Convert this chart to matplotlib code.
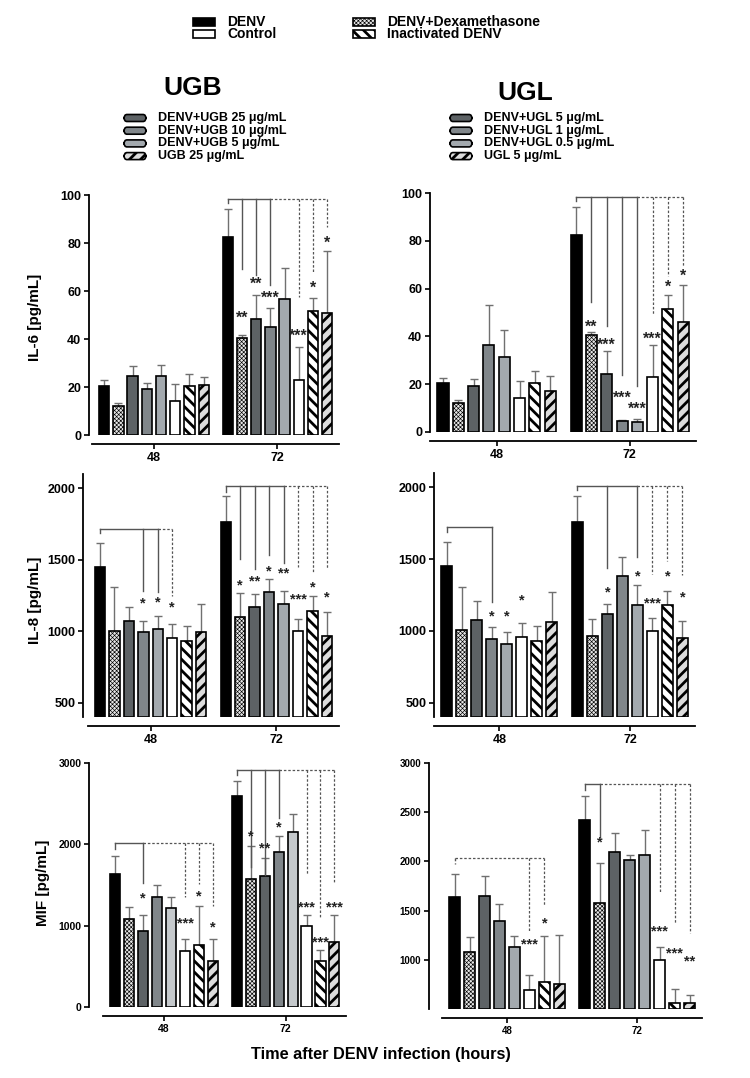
import matplotlib
matplotlib.use('Agg')
import matplotlib.pyplot as plt
from matplotlib.patches import Rectangle, FancyBboxPatch

plt.rcParams['font.family'] = ['Liberation Sans', 'DejaVu Sans']

W, H = 750, 1078

times = ['48', '72']
top_legend = ['DENV', 'Control', 'DENV+Dexamethasone', 'Inactivated DENV']
ugb_legend = ['DENV+UGB 25 μg/mL', 'DENV+UGB 10 μg/mL', 'DENV+UGB 5 μg/mL', 'UGB 25 μg/mL']
ugl_legend = ['DENV+UGL 5 μg/mL', 'DENV+UGL 1 μg/mL', 'DENV+UGL 0.5 μg/mL', 'UGL 5 μg/mL']

# bar order in each time group:
# DENV, DENV+Dex, DENV+drug high, mid, low, Control, Inactivated DENV, drug alone

# IL-6, UGB
il6_ugb_48 = [20.4, 12.1, 24.6, 19.3, 24.6, 14.2, 20.6, 20.8]
il6_ugb_48_sd = [2.5, 1.4, 4.1, 2.4, 4.6, 7.2, 4.7, 3.5]
il6_ugb_72 = [82.6, 40.5, 48.4, 45.0, 56.8, 23.0, 51.6, 50.7]
il6_ugb_72_sd = [11.4, 1.2, 10.1, 8.0, 12.8, 13.5, 5.6, 25.8]
il6_ugb_48_stars = ['', '', '', '', '', '', '', '']
il6_ugb_72_stars = ['', '**', '**', '***', '', '***', '*', '*']
il6_ugb_72_star_y = [0, 48.6, 62.8, 57, 0, 41, 61, 80]

# IL-6, UGL
il6_ugl_48 = [20.3, 12.2, 19.4, 36.2, 31.2, 14.4, 20.6, 17.3]
il6_ugl_48_sd = [2.5, 1.3, 2.8, 16.8, 11.6, 7.0, 4.8, 6.1]
il6_ugl_72 = [82.5, 40.5, 24.2, 4.5, 4.3, 23.0, 51.6, 46.0]
il6_ugl_72_sd = [11.5, 1.2, 9.8, 0.5, 1.3, 13.5, 5.6, 15.5]
il6_ugl_48_stars = ['', '', '', '', '', '', '', '']
il6_ugl_72_stars = ['', '**', '***', '***', '***', '***', '*', '*']
il6_ugl_72_star_y = [0, 44, 36.4, 14.3, 9.6, 39, 60.5, 65]

# IL-8, UGB
il8_ugb_48 = [1450, 1003, 1070, 992, 1013, 955, 929, 992]
il8_ugb_48_sd = [167, 304, 98, 81, 95, 97, 109, 197]
il8_ugb_72 = [1764, 1101, 1170, 1274, 1193, 1003, 1142, 968]
il8_ugb_72_sd = [178, 169, 88, 91, 88, 86, 105, 170]
il8_ugb_48_stars = ['', '', '', '*', '*', '*', '', '']
il8_ugb_48_star_y = [0, 0, 0, 1191, 1200, 1165, 0, 0]
il8_ugb_72_stars = ['', '*', '**', '*', '**', '***', '*', '*']
il8_ugb_72_star_y = [0, 1323, 1346, 1420, 1404, 1219, 1305, 1237]

# IL-8, UGL
il8_ugl_48 = [1449, 1005, 1074, 940, 912, 958, 928, 1060]
il8_ugl_48_sd = [169, 300, 134, 90, 81, 95, 107, 208]
il8_ugl_72 = [1762, 965, 1118, 1380, 1178, 1002, 1180, 947]
il8_ugl_72_sd = [180, 116, 67, 134, 141, 86, 98, 120]
il8_ugl_48_stars = ['', '', '', '*', '*', '*', '', '']
il8_ugl_48_star_y = [0, 0, 0, 1097, 1097, 1213, 0, 0]
il8_ugl_72_stars = ['', '', '*', '', '*', '***', '*', '*']
il8_ugl_72_star_y = [0, 0, 1271, 0, 1382, 1194, 1382, 1231]

# MIF, UGB
mif_ugb_48 = [1639, 1078, 930, 1356, 1217, 684, 766, 561]
mif_ugb_48_sd = [222, 151, 205, 144, 139, 156, 472, 271]
mif_ugb_72 = [2590, 1578, 1615, 1910, 2156, 996, 561, 795]
mif_ugb_72_sd = [188, 397, 217, 192, 221, 131, 144, 340]
mif_ugb_48_stars = ['', '', '*', '', '', '***', '*', '*']
mif_ugb_48_star_y = [0, 0, 1340, 0, 0, 1025, 1360, 975]
mif_ugb_72_stars = ['', '*', '**', '*', '', '***', '***', '***']
mif_ugb_72_star_y = [0, 2098, 1946, 2213, 0, 1229, 799, 1229]

# MIF, UGL
mif_ugl_48 = [1642, 1078, 1652, 1392, 1128, 689, 770, 757]
mif_ugl_48_sd = [226, 153, 196, 176, 115, 159, 467, 497]
mif_ugl_72 = [2419, 1581, 2098, 2014, 2068, 993, 561, 558]
mif_ugl_72_sd = [243, 406, 186, 54, 256, 136, 145, 81]
mif_ugl_48_stars = ['', '', '', '', '', '***', '*', '']
mif_ugl_48_star_y = [0, 0, 0, 0, 0, 1152, 1365, 0]
mif_ugl_72_stars = ['', '*', '', '', '', '***', '***', '**']
mif_ugl_72_star_y = [0, 2189, 0, 0, 0, 1284, 1068, 983]

# comparison brackets: (group, level, end of DENV tick, [(bar, end, solid)])
il6_ugb_brackets = [(1, 98.2, 96.5, [(1, 69, True), (2, 66.7, True), (3, 62.5, True),
                                     (5, 57.6, False), (6, 68, False), (7, 86.8, False)])]
il6_ugl_brackets = [(1, 98.2, 96.5, [(1, 54.5, True), (2, 44.3, True), (3, 23.8, True), (4, 19.2, True),
                                     (5, 49.4, False), (6, 65.3, False), (7, 69.2, False)])]
il8_ugb_brackets = [(0, 1713, 1685, [(3, 1281, True), (4, 1277, True), (5, 1247, False)]),
                    (1, 2012, 1975, [(1, 1502, True), (2, 1432, True), (3, 1536, True), (4, 1478, True),
                                     (5, 1450, False), (6, 1416, False), (7, 1432, False)])]
il8_ugl_brackets = [(0, 1722, 1692, [(3, 1201, True)]),
                    (1, 2007, 1981, [(2, 1437, True), (4, 1514, True),
                                     (5, 1393, False), (6, 1486, False), (7, 1387, False)])]
mif_ugb_brackets = [(0, 2016, 1946, [(2, 1524, True), (5, 1352, False), (6, 1516, False), (7, 1238, False)]),
                    (1, 2918, 2848, [(1, 1721, True), (2, 1619, True), (3, 2328, True),
                                     (5, 1639, False), (6, 1106, False), (7, 1537, False)])]
mif_ugl_brackets = [(0, 2030, 1973, [(5, 1297, False), (6, 1547, False)]),
                    (1, 2784, 2723, [(1, 2250, True), (5, 1693, False), (6, 1365, False), (7, 1270, False)])]

GROUP_GAP = 8.7
BAR_W = 0.72
LINE_GRAY = '#555555'
DEX_STYLE = ('#e6e6e6', 'xxxxxxxx', 0.45)


def fx(px):
    return px / W


def fy(py):
    return 1 - py / H


def bar_style(i, low_color):
    # (facecolor, hatch, hatch linewidth)
    styles = [('black', None, 0),
              DEX_STYLE,
              ('#5d6265', None, 0),
              ('#80868a', None, 0),
              (low_color, None, 0),
              ('white', None, 0),
              ('white', '\\\\\\', 2.0),
              ('#dcdcdc', '///', 2.0)]
    return styles[i]


def styled_patch(p, hatch, hlw):
    if hatch:
        p.set_hatch(hatch)
        if hasattr(p, 'set_hatch_linewidth'):
            p.set_hatch_linewidth(hlw)


def draw_panel(cfg):
    left, right, top, bottom = cfg['rect']
    ax = plt.gcf().add_axes([fx(left), fy(bottom), (right - left) / W, (bottom - top) / H])
    y0, y1 = cfg['ylim']
    ax.set_xlim(cfg['xleft'], 16.6)
    ax.set_ylim(y0, y1)

    groups = [(0, cfg['m48'], cfg['sd48'], cfg['st48'], cfg['sy48']),
              (GROUP_GAP, cfg['m72'], cfg['sd72'], cfg['st72'], cfg['sy72'])]
    for off, means, sds, stars, star_y in groups:
        xs = [off + i for i in range(8)]
        for i, (x, m) in enumerate(zip(xs, means)):
            face, hatch, hlw = bar_style(i, cfg['low'])
            bars = ax.bar(x, m - y0, bottom=y0, width=BAR_W, color=face,
                          edgecolor='black', linewidth=1.2, zorder=3)
            styled_patch(bars[0], hatch, hlw)
        ax.errorbar(xs, means, yerr=[[0] * 8, sds], fmt='none', ecolor='#707070',
                    elinewidth=1.0, capsize=2.6, capthick=1.0, zorder=2)
        for x, s, sy in zip(xs, stars, star_y):
            if s:
                ax.text(x, sy, s, ha='center', va='center', fontsize=cfg['star_fs'],
                        fontweight='bold', color='#222222', zorder=5)

    for grp, level, tick_end, targets in cfg['brackets']:
        off = GROUP_GAP * grp
        x0 = off
        solid_x = [off + t[0] for t in targets if t[2]]
        last_x = off + targets[-1][0]
        has_solid = len(solid_x) > 0
        ax.plot([x0, x0], [level, tick_end], color=LINE_GRAY, lw=1.0,
                ls='-' if has_solid else (0, (2, 1.5)), zorder=4)
        if has_solid:
            ax.plot([x0, max(solid_x)], [level, level], color=LINE_GRAY, lw=1.0, zorder=4)
            dash_start = max(solid_x)
        else:
            dash_start = x0
        if last_x > dash_start:
            ax.plot([dash_start, last_x], [level, level], color=LINE_GRAY, lw=0.9,
                    ls=(0, (2, 1.5)), zorder=4)
        for idx, end, solid in targets:
            ax.plot([off + idx, off + idx], [level, end], color=LINE_GRAY,
                    lw=1.0 if solid else 0.9, ls='-' if solid else (0, (2, 1.5)), zorder=4)

    for side in ['top', 'right']:
        ax.spines[side].set_visible(False)
    ax.spines['left'].set_linewidth(1.3)
    ax.spines['bottom'].set_linewidth(1.3)
    ax.spines['bottom'].set_position(('outward', 6.5))
    ax.spines['bottom'].set_bounds(-0.85, 16.55)
    ax.set_xticks([3.5, GROUP_GAP + 3.5])
    ax.set_xticklabels(times)
    ax.set_yticks(cfg['yticks'])
    ax.tick_params(axis='both', width=1.2, length=3.5, labelsize=cfg['tick_fs'], pad=2)
    for lab in ax.get_xticklabels() + ax.get_yticklabels():
        lab.set_fontweight('bold')
    ax.set_facecolor('none')
    return ax


fig = plt.figure(figsize=(7.5, 10.78), dpi=100)

panels = [
    dict(rect=(89, 340, 195, 435), xleft=-1.07, ylim=(0, 100), yticks=[0, 20, 40, 60, 80, 100],
         m48=il6_ugb_48, sd48=il6_ugb_48_sd, m72=il6_ugb_72, sd72=il6_ugb_72_sd,
         st48=il6_ugb_48_stars, sy48=[0] * 8, st72=il6_ugb_72_stars, sy72=il6_ugb_72_star_y,
         brackets=il6_ugb_brackets, low='#a3a9ae', star_fs=11.5, tick_fs=9),
    dict(rect=(430, 697, 193, 432), xleft=-0.85, ylim=(0, 100), yticks=[0, 20, 40, 60, 80, 100],
         m48=il6_ugl_48, sd48=il6_ugl_48_sd, m72=il6_ugl_72, sd72=il6_ugl_72_sd,
         st48=il6_ugl_48_stars, sy48=[0] * 8, st72=il6_ugl_72_stars, sy72=il6_ugl_72_star_y,
         brackets=il6_ugl_brackets, low='#a3a9ae', star_fs=11.5, tick_fs=9),
    dict(rect=(83, 340, 473.7, 717.3), xleft=-1.17, ylim=(400, 2100), yticks=[500, 1000, 1500, 2000],
         m48=il8_ugb_48, sd48=il8_ugb_48_sd, m72=il8_ugb_72, sd72=il8_ugb_72_sd,
         st48=il8_ugb_48_stars, sy48=il8_ugb_48_star_y, st72=il8_ugb_72_stars, sy72=il8_ugb_72_star_y,
         brackets=il8_ugb_brackets, low='#a3a9ae', star_fs=10.5, tick_fs=9),
    dict(rect=(434, 696, 473, 717), xleft=-0.85, ylim=(400, 2100), yticks=[500, 1000, 1500, 2000],
         m48=il8_ugl_48, sd48=il8_ugl_48_sd, m72=il8_ugl_72, sd72=il8_ugl_72_sd,
         st48=il8_ugl_48_stars, sy48=il8_ugl_48_star_y, st72=il8_ugl_72_stars, sy72=il8_ugl_72_star_y,
         brackets=il8_ugl_brackets, low='#a3a9ae', star_fs=10.5, tick_fs=9),
    dict(rect=(89, 347, 763, 1007), xleft=-1.88, ylim=(0, 3000), yticks=[0, 1000, 2000, 3000],
         m48=mif_ugb_48, sd48=mif_ugb_48_sd, m72=mif_ugb_72, sd72=mif_ugb_72_sd,
         st48=mif_ugb_48_stars, sy48=mif_ugb_48_star_y, st72=mif_ugb_72_stars, sy72=mif_ugb_72_star_y,
         brackets=mif_ugb_brackets, low='#c5c9cc', star_fs=10.5, tick_fs=7.5),
    dict(rect=(429, 703, 763, 1009), xleft=-1.71, ylim=(500, 3000), yticks=[1000, 1500, 2000, 2500, 3000],
         m48=mif_ugl_48, sd48=mif_ugl_48_sd, m72=mif_ugl_72, sd72=mif_ugl_72_sd,
         st48=mif_ugl_48_stars, sy48=mif_ugl_48_star_y, st72=mif_ugl_72_stars, sy72=mif_ugl_72_star_y,
         brackets=mif_ugl_brackets, low='#a3a9ae', star_fs=10.5, tick_fs=7),
]

for cfg in panels:
    draw_panel(cfg)

# y labels (left column only)
fig.text(fx(35), fy(317), 'IL-6 [pg/mL]', rotation=90, ha='center', va='center', fontsize=11, fontweight='bold')
fig.text(fx(35), fy(600), 'IL-8 [pg/mL]', rotation=90, ha='center', va='center', fontsize=11, fontweight='bold')
fig.text(fx(43), fy(883), 'MIF [pg/mL]', rotation=90, ha='center', va='center', fontsize=11, fontweight='bold')
fig.text(fx(381), fy(1055), 'Time after DENV infection (hours)', ha='center', va='center',
         fontsize=11.7, fontweight='bold')


def legend_patch(x, y, w, h, face, hatch=None, hlw=0, rounded=False):
    if rounded:
        p = FancyBboxPatch((fx(x), fy(y + h / 2)), w / W, h / H, boxstyle='round,pad=0,rounding_size=0.004',
                           transform=fig.transFigure, facecolor=face, edgecolor='black', linewidth=1.2)
    else:
        p = Rectangle((fx(x), fy(y + h / 2)), w / W, h / H, transform=fig.transFigure,
                      facecolor=face, edgecolor='black', linewidth=1.2)
    styled_patch(p, hatch, hlw)
    fig.add_artist(p)


# top legend
top_pos = [(193, 22), (193, 34), (353, 22), (353, 34)]
top_style = [('black', None, 0), ('white', None, 0), DEX_STYLE, ('white', '\\\\\\', 2.0)]
for (x, y), (face, hatch, hlw), label in zip(top_pos, top_style, top_legend):
    legend_patch(x, y, 22, 8, face, hatch, hlw)
    fig.text(fx(x + 34), fy(y), label, ha='left', va='center', fontsize=10, fontweight='bold')

# drug titles and legends
fig.text(fx(193), fy(88), 'UGB', ha='center', va='center', fontsize=19, fontweight='bold')
fig.text(fx(525), fy(93), 'UGL', ha='center', va='center', fontsize=19, fontweight='bold')

drug_style = [('#5d6265', None, 0), ('#80868a', None, 0), ('#a3a9ae', None, 0), ('#dcdcdc', '///', 2.0)]
for x0, labels in [(124, ugb_legend), (450, ugl_legend)]:
    for k, (label, (face, hatch, hlw)) in enumerate(zip(labels, drug_style)):
        y = 118 + k * 12.7
        legend_patch(x0, y, 22, 7, face, hatch, hlw, rounded=True)
        fig.text(fx(x0 + 34), fy(y), label, ha='left', va='center', fontsize=9, fontweight='bold')

fig.savefig('out.png', dpi=100)
